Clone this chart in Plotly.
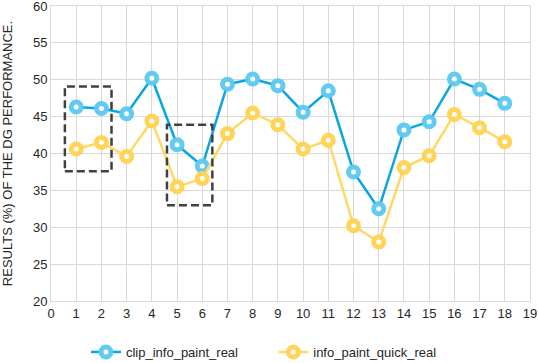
import plotly.graph_objects as go

# data
steps = list(range(1, 19))
clip_info_paint_real = [46.3, 46.1, 45.4, 50.2, 41.2, 38.3, 49.4, 50.1, 49.2, 45.6,
                        48.5, 37.5, 32.5, 43.2, 44.3, 50.1, 48.7, 46.8]
info_paint_quick_real = [40.6, 41.5, 39.6, 44.4, 35.5, 36.6, 42.7, 45.5, 43.9, 40.6,
                         41.8, 30.2, 28.0, 38.1, 39.7, 45.3, 43.5, 41.6]

# highlighted regions (x0, x1, y0, y1)
boxes = [(0.55, 2.4, 37.6, 49.1), (4.6, 6.4, 33.0, 43.9)]

fig = go.Figure()
fig.add_trace(go.Scatter(
    x=steps, y=clip_info_paint_real, mode='lines+markers', name='clip_info_paint_real',
    line=dict(color='#0AA5E2', width=2.5),
    marker=dict(symbol='circle', size=10, color='white',
                line=dict(color='rgba(91,200,240,0.95)', width=5)),
    legend='legend'
))
fig.add_trace(go.Scatter(
    x=steps, y=info_paint_quick_real, mode='lines+markers', name='info_paint_quick_real',
    line=dict(color='#FFD966', width=2.5),
    marker=dict(symbol='circle', size=10, color='white',
                line=dict(color='rgba(255,210,80,0.95)', width=5)),
    legend='legend2'
))

for x0, x1, y0, y1 in boxes:
    fig.add_shape(type='rect', x0=x0, x1=x1, y0=y0, y1=y1, xref='x', yref='y',
                  line=dict(color='#404040', width=2.5, dash='8px,4px'))

leg_style = dict(orientation='h', xanchor='left', y=-0.122, yanchor='top',
                 font=dict(size=13), itemwidth=30, bgcolor='rgba(0,0,0,0)')

fig.update_layout(
    width=539, height=363,
    margin=dict(l=51, r=9, t=6, b=62, autoexpand=False),
    paper_bgcolor='white', plot_bgcolor='white',
    font=dict(family='Liberation Sans, Arial, sans-serif', color='#262626', size=13),
    showlegend=True,
    legend=dict(x=0.073, **leg_style),
    legend2=dict(x=0.464, **leg_style),
)
fig.update_xaxes(range=[0, 19], dtick=1, tick0=0, showgrid=True, gridcolor='#D9D9D9',
                 gridwidth=1, showline=True, linecolor='#D9D9D9', mirror=True,
                 zeroline=False, ticks='', ticklabeloverflow='allow')
fig.update_yaxes(range=[20, 60], dtick=5, tick0=20, showgrid=True, gridcolor='#D9D9D9',
                 gridwidth=1, showline=True, linecolor='#D9D9D9', mirror=True,
                 zeroline=False, ticks='', ticklabeloverflow='allow',
                 title=dict(text='RESULTS (%) OF THE DG PERFORMANCE.', font=dict(size=13),
                            standoff=18))

# drop the browser's default page margin so the figure sits at the window corner
fig.write_html("out.html", config={'displayModeBar': False},
               post_script="document.body.style.margin='0';")
